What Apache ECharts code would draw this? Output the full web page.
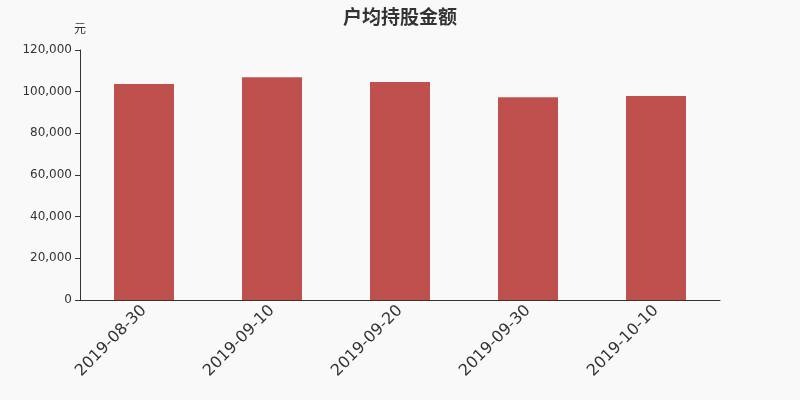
<!DOCTYPE html>
<html>
<head>
<meta charset="utf-8">
<script src="https://cdn.jsdelivr.net/npm/echarts@6/dist/echarts.min.js"></script>
<style>
  html, body { margin: 0; padding: 0; background: #f9f9f9; }
  #main { width: 800px; height: 400px; }
</style>
</head>
<body>
<div id="main"></div>
<script>
// data
const dates = ['2019-08-30', '2019-09-10', '2019-09-20', '2019-09-30', '2019-10-10'];
const avgHolding = [103700, 106900, 104600, 97300, 97900];

const chart = echarts.init(document.getElementById('main'));

let option = {
  backgroundColor: '#f9f9f9',
  textStyle: { fontFamily: 'DejaVu Sans' },
  title: {
    text: '户均持股金额',
    left: 'center',
    top: 2,
    textStyle: { fontSize: 19, fontWeight: 'bold', color: '#333', fontFamily: 'Noto Sans CJK SC' }
  },
  grid: { left: 80, right: 80, top: 50, bottom: 100 },
  xAxis: {
    type: 'category',
    data: dates,
    axisLine: { lineStyle: { color: '#333' } },
    axisTick: { alignWithLabel: false },
    axisLabel: { rotate: 45, fontSize: 16, color: '#333', margin: 8, fontFamily: 'DejaVu Sans' }
  },
  yAxis: {
    type: 'value',
    name: '元',
    nameGap: 16,
    nameTextStyle: { color: '#333', fontSize: 12, fontFamily: 'Noto Sans CJK SC' },
    min: 0,
    max: 120000,
    interval: 20000,
    axisLine: { show: true, lineStyle: { color: '#333' } },
    axisTick: { show: true },
    splitLine: { show: false },
    axisLabel: {
      color: '#333',
      fontSize: 12,
      fontFamily: 'DejaVu Sans',
      formatter: v => v.toLocaleString('en-US')
    }
  },
  series: [
    {
      name: '户均持股金额',
      type: 'bar',
      data: avgHolding,
      barWidth: 60,
      itemStyle: { color: '#c0504d' }
    }
  ]
};

chart.setOption(option);
</script>
</body>
</html>
